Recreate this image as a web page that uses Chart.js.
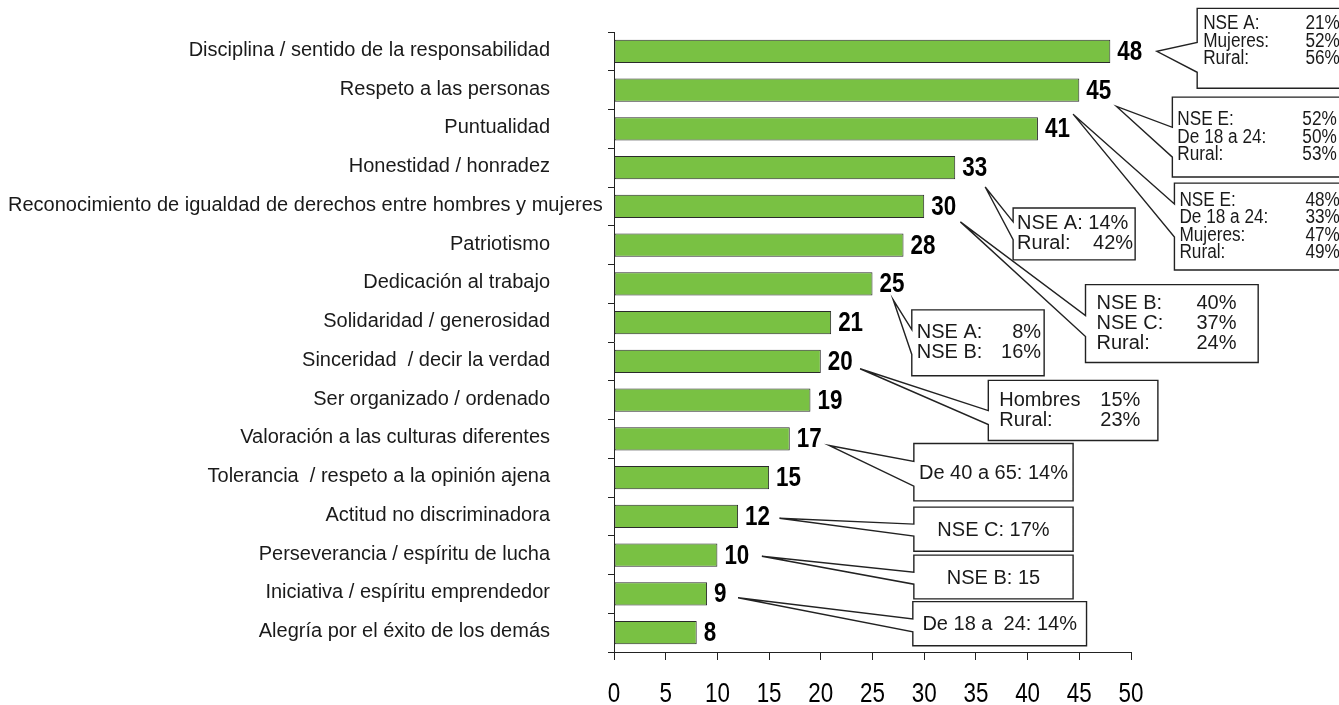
<!DOCTYPE html>
<html>
<head>
<meta charset="utf-8">
<script src="https://cdn.jsdelivr.net/npm/chart.js@4.4.1/dist/chart.umd.min.js"></script>
<style>
  html, body { margin: 0; padding: 0; background: #fff; }
  #wrap { width: 1339px; height: 705px; position: relative; }
</style>
</head>
<body>
<div id="wrap"><canvas id="chart" width="1339" height="705"></canvas></div>
<script>
// Valores (%) por categoria
const categories = [
  'Disciplina / sentido de la responsabilidad',
  'Respeto a las personas',
  'Puntualidad',
  'Honestidad / honradez',
  'Reconocimiento de igualdad de derechos entre hombres y mujeres',
  'Patriotismo',
  'Dedicación al trabajo',
  'Solidaridad / generosidad',
  'Sinceridad  / decir la verdad',
  'Ser organizado / ordenado',
  'Valoración a las culturas diferentes',
  'Tolerancia  / respeto a la opinión ajena',
  'Actitud no discriminadora',
  'Perseverancia / espíritu de lucha',
  'Iniciativa / espíritu emprendedor',
  'Alegría por el éxito de los demás'
];
const values = [48, 45, 41, 33, 30, 28, 25, 21, 20, 19, 17, 15, 12, 10, 9, 8];
const xMin = 0, xMax = 50, xStep = 5;

// Textos de los recuadros (etiqueta, valor)
const calloutTexts = [
  [['NSE A:', '21%'], ['Mujeres:', '52%'], ['Rural:', '56%']],
  [['NSE E:', '52%'], ['De 18 a 24:', '50%'], ['Rural:', '53%']],
  [['NSE E:', '48%'], ['De 18 a 24:', '33%'], ['Mujeres:', '47%'], ['Rural:', '49%']],
  [['NSE A: 14%'], ['Rural:', '42%']],
  [['NSE B:', '40%'], ['NSE C:', '37%'], ['Rural:', '24%']],
  [['NSE A:', '8%'], ['NSE B:', '16%']],
  [['Hombres', '15%'], ['Rural:', '23%']],
  ['De 40 a 65: 14%'],
  ['NSE C: 17%'],
  ['NSE B: 15'],
  ['De 18 a  24: 14%']
];

// Ubicacion de los recuadros en unidades de datos (valor en x, indice de categoria en y)
const calloutLayout = [
  { tip: [52.5, 0.0],  box: [56.4, 70.9, -1.11, 0.95], attach: [-0.23, 0.54], col: 70.2, sx: 0.86, lh: 17.5, pad: 6, dy: -7 },
  { tip: [48.6, 1.42], box: [54.0, 70.9, 1.18, 3.24],  attach: [1.96, 2.73],  col: 69.9, sx: 0.86, lh: 17.5, pad: 5 },
  { tip: [44.4, 1.62], box: [54.2, 70.9, 3.40, 5.64],  attach: [3.94, 4.79],  col: 70.2, sx: 0.86, lh: 17.5, pad: 5 },
  { tip: [35.9, 3.50], box: [38.6, 50.4, 4.04, 5.38],  attach: [4.40, 4.86],  col: 50.2, pad: 4 },
  { tip: [33.5, 4.40], box: [45.6, 62.3, 6.02, 8.03],  attach: [6.82, 7.36],  col: 60.2, pad: 11 },
  { tip: [27.0, 6.41], box: [28.8, 41.6, 6.67, 8.37],  attach: [7.18, 7.82],  col: 41.3, pad: 5 },
  { tip: [23.8, 8.19], box: [36.2, 52.6, 8.49, 10.04], attach: [9.27, 9.63],  col: 50.9, pad: 11 },
  { tip: [20.8, 10.17], box: [29.0, 44.4, 10.12, 11.6], attach: [10.58, 11.22] },
  { tip: [16.0, 12.05], box: [29.0, 44.4, 11.76, 12.9], attach: [12.2, 12.51] },
  { tip: [14.3, 13.03], box: [29.0, 44.4, 13.0, 14.13], attach: [13.44, 13.75] },
  { tip: [12.0, 14.1],  box: [28.9, 45.7, 14.2, 15.34], attach: [14.65, 14.98] }
];

const SANS = '"Liberation Sans", Arial, sans-serif';
const INK = '#1a1a1a';
const NARROW_X = 0.83; // compresion horizontal para simular fuente condensada

// texto con escala horizontal (sx) y alineacion left/center/right
function squeezedText(ctx, txt, x, y, align, sx) {
  const w = ctx.measureText(txt).width * sx;
  const left = align === 'center' ? x - w / 2 : align === 'right' ? x - w : x;
  ctx.save();
  ctx.translate(left, y);
  ctx.scale(sx, 1);
  ctx.textAlign = 'left';
  ctx.fillText(txt, 0, 0);
  ctx.restore();
}

// Etiquetas de categoria, alineadas a la derecha
const categoryLabels = {
  id: 'categoryLabels',
  afterDraw(chart) {
    const { ctx, scales: { y } } = chart;
    ctx.save();
    ctx.font = '20px ' + SANS;
    ctx.fillStyle = INK;
    ctx.textBaseline = 'middle';
    ctx.textAlign = 'left';
    categories.forEach((c, i) => {
      const w = ctx.measureText(c).width;
      const x = Math.max(8, 550 - w);
      ctx.fillText(c, x, y.getPixelForValue(i) - 1);
    });
    ctx.restore();
  }
};

// Numeros del eje x (condensados)
const xTickLabels = {
  id: 'xTickLabels',
  afterDraw(chart) {
    const { ctx, scales: { x } } = chart;
    ctx.save();
    ctx.font = '27px ' + SANS;
    ctx.fillStyle = '#000';
    ctx.textBaseline = 'middle';
    x.ticks.forEach(t => {
      squeezedText(ctx, String(t.value), x.getPixelForValue(t.value), 695, 'center', NARROW_X);
    });
    ctx.restore();
  }
};

// Numeros al final de cada barra
const barValues = {
  id: 'barValues',
  afterDatasetsDraw(chart) {
    const { ctx } = chart;
    const meta = chart.getDatasetMeta(0);
    ctx.save();
    ctx.font = 'bold 27px ' + SANS;
    ctx.fillStyle = '#000';
    ctx.textBaseline = 'middle';
    meta.data.forEach((bar, i) => {
      squeezedText(ctx, String(values[i]), bar.x + 7, bar.y + 1, 'left', NARROW_X);
    });
    ctx.restore();
  }
};

// Recuadros tipo globo con los datos por segmento
const callouts = {
  id: 'callouts',
  afterDraw(chart) {
    const { ctx, scales: { x, y } } = chart;
    ctx.save();
    calloutLayout.forEach((c, k) => {
      const px = v => x.getPixelForValue(v);
      const py = v => y.getPixelForValue(v);
      const x0 = px(c.box[0]), x1 = px(c.box[1]);
      const y0 = py(c.box[2]), y1 = py(c.box[3]);
      const a1 = py(c.attach[0]), a2 = py(c.attach[1]);
      const tx = px(c.tip[0]), ty = py(c.tip[1]);

      ctx.beginPath();
      ctx.moveTo(x0, a1);
      ctx.lineTo(x0, y0);
      ctx.lineTo(x1, y0);
      ctx.lineTo(x1, y1);
      ctx.lineTo(x0, y1);
      ctx.lineTo(x0, a2);
      ctx.lineTo(tx, ty);
      ctx.closePath();
      ctx.fillStyle = '#fff';
      ctx.fill();
      ctx.lineWidth = 1.4;
      ctx.strokeStyle = '#222';
      ctx.lineJoin = 'miter';
      ctx.stroke();

      const rows = calloutTexts[k];
      const lh = c.lh || 20;
      const sx = c.sx || 1;
      ctx.font = '20px ' + SANS;
      ctx.fillStyle = INK;
      ctx.textBaseline = 'middle';
      const top = (y0 + y1) / 2 - (rows.length - 1) * lh / 2 + (c.dy || 0);
      rows.forEach((r, j) => {
        const ry = top + j * lh;
        if (typeof r === 'string') {
          squeezedText(ctx, r, (x0 + x1) / 2, ry + 1, 'center', sx);
        } else {
          squeezedText(ctx, r[0], x0 + c.pad, ry, 'left', sx);
          if (r[1]) squeezedText(ctx, r[1], px(c.col), ry, 'right', sx);
        }
      });
    });
    ctx.restore();
  }
};

new Chart(document.getElementById('chart'), {
  type: 'bar',
  data: {
    labels: categories,
    datasets: [{
      data: values,
      backgroundColor: '#79c143',
      borderColor: '#2a2a2a',
      borderWidth: 1,
      borderSkipped: false,
      barPercentage: 0.6,
      categoryPercentage: 1
    }]
  },
  options: {
    indexAxis: 'y',
    responsive: false,
    animation: false,
    layout: { padding: { top: 32, right: 208, left: 0, bottom: 0 } },
    plugins: { legend: { display: false }, tooltip: { enabled: false } },
    scales: {
      x: {
        min: xMin, max: xMax,
        ticks: { stepSize: xStep, display: false },
        grid: { drawOnChartArea: false, drawTicks: true, tickLength: 8, color: '#222' },
        border: { display: true, color: '#222', width: 1 },
        afterFit: s => { s.height = 53; }
      },
      y: {
        ticks: { display: false },
        grid: { drawOnChartArea: false, drawTicks: true, tickLength: 6, color: '#222', offset: true },
        border: { display: true, color: '#222', width: 1 },
        afterFit: s => { s.width = 614; }
      }
    }
  },
  plugins: [categoryLabels, xTickLabels, barValues, callouts]
});
</script>
</body>
</html>
